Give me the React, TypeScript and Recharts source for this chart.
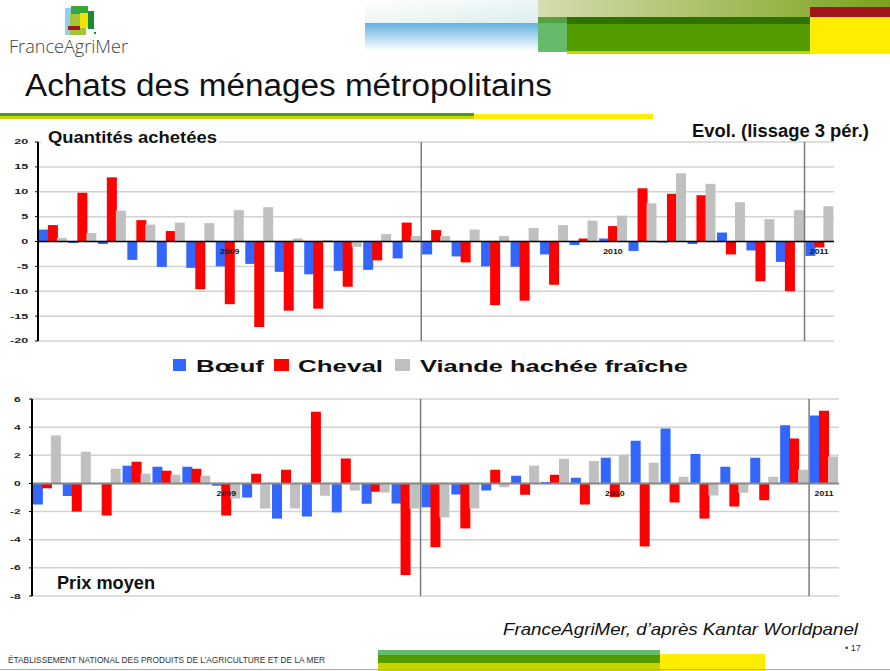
import React from 'react';
import { BarChart, Bar, XAxis, YAxis, CartesianGrid, ReferenceLine, ReferenceDot } from 'recharts';

const periods = [
  'P01 2009', 'P02 2009', 'P03 2009', 'P04 2009', 'P05 2009', 'P06 2009', 'P07 2009',
  'P08 2009', 'P09 2009', 'P10 2009', 'P11 2009', 'P12 2009', 'P13 2009',
  'P01 2010', 'P02 2010', 'P03 2010', 'P04 2010', 'P05 2010', 'P06 2010', 'P07 2010',
  'P08 2010', 'P09 2010', 'P10 2010', 'P11 2010', 'P12 2010', 'P13 2010',
  'P01 2011',
];

const seriesNames = ['Bœuf', 'Cheval', 'Viande hachée fraîche'];
const seriesKeys = ['boeuf', 'cheval', 'viande'];
const seriesColors = ['#3366ff', '#ff0000', '#c0c0c0'];

// Quantités achetées — évolution (%)
const qtyBoeuf = [2.4, -0.3, -0.5, -3.7, -5.1, -5.3, -5.0, -4.5, -6.1, -6.6, -5.9, -5.7, -3.4, -2.6, -3.0, -5.0, -5.1, -2.6, -0.7, 0.6, -1.9, -0.2, -0.5, 1.8, -1.8, -4.1, -2.9];
const qtyCheval = [3.3, 9.8, 12.9, 4.3, 2.1, -9.6, -12.6, -17.2, -13.9, -13.5, -9.1, -3.8, 3.8, 2.3, -4.2, -12.8, -11.9, -8.7, 0.6, 3.1, 10.7, 9.6, 9.3, -2.6, -8.0, -10.0, -1.2];
const qtyViande = [0.7, 1.7, 6.2, 3.4, 3.8, 3.7, 6.3, 6.9, 0.6, 0.3, -1.1, 1.5, 1.1, 1.1, 2.4, 1.1, 2.7, 3.3, 4.2, 5.2, 7.7, 13.7, 11.6, 7.9, 4.5, 6.3, 7.1];

// Prix moyen — évolution (%)
const prixBoeuf = [-1.5, -0.9, 0, 1.26, 1.19, 1.19, -0.17, -1.0, -2.5, -2.35, -2.06, -1.45, -1.42, -1.7, -0.78, -0.5, 0.55, 0.1, 0.4, 1.83, 3.04, 3.9, 2.1, 1.19, 1.83, 4.13, 4.82];
const prixCheval = [-0.35, -2.0, -2.28, 1.54, 0.9, 1.04, -2.28, 0.69, 0.97, 5.1, 1.78, -0.6, -6.5, -4.53, -3.2, 0.97, -0.8, 0.62, -1.5, -0.97, -4.48, -1.35, -2.5, -1.64, -1.2, 3.2, 5.17];
const prixViande = [3.4, 2.25, 1.04, 0.69, 0.62, 0.55, -1.07, -1.78, -1.78, -0.88, -0.5, -0.64, -1.78, -2.42, -1.78, -0.28, 1.26, 1.76, 1.6, 2.04, 1.47, 0.47, -0.85, -0.66, 0.47, 0.97, 1.92];

const qtyTicks = [-20, -15, -10, -5, 0, 5, 10, 15, 20];
const prixTicks = [-8, -6, -4, -2, 0, 2, 4, 6];

const yearStarts = ['P01 2010', 'P01 2011'];
const yearLabels = [
  { year: '2009', at: 'P07 2009' },
  { year: '2010', at: 'P07 2010' },
  { year: '2011', at: 'P01 2011' },
];

const FONT = '"Liberation Sans", Arial, Helvetica, sans-serif';

const qtyData = periods.map((p, i) => ({ period: p, boeuf: qtyBoeuf[i], cheval: qtyCheval[i], viande: qtyViande[i] }));
const prixData = periods.map((p, i) => ({ period: p, boeuf: prixBoeuf[i], cheval: prixCheval[i], viande: prixViande[i] }));

const makeTick = (stretch: number, size: number) => (props: any) => {
  const { x, y, payload } = props;
  return (
    <text
      x={0}
      y={0}
      transform={`translate(${x},${y}) scale(${stretch},1)`}
      textAnchor="end"
      dominantBaseline="central"
      fontSize={size}
      fontWeight="bold"
      fill="#222"
      fontFamily={FONT}
    >
      {payload.value}
    </text>
  );
};

const yearLabel = (text: string, dy: number) => (props: any) => {
  const vb = props.viewBox || {};
  const cx = (vb.x || 0) + (vb.width || 0) / 2;
  const cy = (vb.y || 0) + (vb.height || 0) / 2 + dy;
  return (
    <text
      x={0}
      y={0}
      transform={`translate(${cx},${cy}) scale(1.25,1)`}
      textAnchor="middle"
      dominantBaseline="central"
      fontSize={7}
      fontWeight="bold"
      fill="#111"
      fontFamily={FONT}
    >
      {text}
    </text>
  );
};

type PanelProps = {
  data: any[];
  ticks: number[];
  domain: [number, number];
  yWidth: number;
  rightMargin: number;
  topMargin: number;
  bottomMargin: number;
  tickMargin: number;
  tickStretch: number;
  tickSize: number;
  zeroColor: string;
  zeroWidth: number;
};

const Panel = (p: PanelProps) => (
  <BarChart
    width={850}
    height={230}
    data={p.data}
    margin={{ top: p.topMargin, right: p.rightMargin, bottom: p.bottomMargin, left: 0 }}
    barCategoryGap="3%"
    barGap={-1}
  >
    <CartesianGrid vertical={false} stroke="#d2d2d2" strokeWidth={1.5} />
    <XAxis dataKey="period" hide />
    <YAxis
      type="number"
      domain={p.domain}
      ticks={p.ticks}
      interval={0}
      width={p.yWidth}
      axisLine={{ stroke: '#000', strokeWidth: 2 }}
      tickLine={{ stroke: '#000', strokeWidth: 1 }}
      tickSize={3}
      tickMargin={p.tickMargin}
      tick={makeTick(p.tickStretch, p.tickSize)}
      allowDataOverflow
    />
    {seriesKeys.map((k, i) => (
      <Bar key={k} dataKey={k} name={seriesNames[i]} fill={seriesColors[i]} isAnimationActive={false} />
    ))}
    {yearStarts.map((y) => (
      <ReferenceLine key={y} x={y} position="start" stroke="#7a7a7a" strokeWidth={1.5} />
    ))}
    <ReferenceLine y={0} stroke={p.zeroColor} strokeWidth={p.zeroWidth} />
    {yearLabels.map((l) => (
      <ReferenceDot
        key={l.year}
        x={l.at}
        y={0}
        r={0}
        fill="none"
        stroke="none"
        label={yearLabel(l.year, 10.5)}
      />
    ))}
  </BarChart>
);

const Decor = () => (
  <svg width={890} height={671} style={{ position: 'absolute', left: 0, top: 0, pointerEvents: 'none' }}>
    <defs>
      <linearGradient id="skyG" x1="0" y1="0" x2="0" y2="1">
        <stop offset="0" stopColor="#64b0e2" />
        <stop offset="1" stopColor="#ffffff" />
      </linearGradient>
      <linearGradient id="washG" x1="0" y1="0" x2="1" y2="1">
        <stop offset="0" stopColor="#ffffff" />
        <stop offset="1" stopColor="#dcecec" />
      </linearGradient>
      <linearGradient id="topG" x1="0" y1="0" x2="1" y2="0">
        <stop offset="0" stopColor="#d6ddb0" />
        <stop offset="1" stopColor="#7aa31a" />
      </linearGradient>
    </defs>
    {/* header graphics */}
    <rect x={365} y={0} width={173} height={24} fill="url(#washG)" />
    <rect x={365} y={23} width={173} height={28} fill="url(#skyG)" />
    <rect x={538} y={0} width={352} height={17} fill="url(#topG)" />
    <rect x={810} y={7} width={80} height={10} fill="#a0161b" />
    <rect x={538} y={17} width={29} height={35} fill="#66bb6a" />
    <rect x={538} y={17} width={29} height={6} fill="#56a044" />
    <rect x={567} y={17} width={243} height={35} fill="#529c00" />
    <rect x={567} y={17} width={243} height={7} fill="#2e7300" />
    <rect x={567} y={51} width={243} height={3} fill="#c8d400" />
    <rect x={810} y={17} width={80} height={37} fill="#ffed00" />

    {/* logo */}
    <rect x={65} y={8} width={9} height={27} fill="#8fd0ee" />
    <rect x={71} y={6} width={17} height={8} fill="#3aa53a" />
    <rect x={70} y={14} width={16} height={21} fill="#a6c63a" />
    <rect x={80} y={13} width={8} height={15} fill="#f2e400" />
    <rect x={88} y={11} width={6} height={18} fill="#1a8a3a" />
    <rect x={68} y={26} width={12} height={4} fill="#a01818" />
    <rect x={94} y={32} width={2} height={2} fill="#1a8a3a" />
    <text x={9} y={53} fontSize={19} fontFamily='"Open Sans", sans-serif' fontWeight={300} fill="#444" textLength={119} lengthAdjust="spacingAndGlyphs">FranceAgriMer</text>

    {/* page title */}
    <text x={25} y={96} fontSize={31} fontFamily={FONT} fill="#111" textLength={527} lengthAdjust="spacingAndGlyphs">Achats des ménages métropolitains</text>
    <rect x={0} y={113} width={474} height={3} fill="#4f9a2a" />
    <rect x={0} y={116} width={474} height={3} fill="#c8d400" />
    <rect x={474} y={114} width={179} height={5} fill="#ffed00" />

    {/* chart titles */}
    <rect x={41} y={126} width={178} height={19} fill="#fff" />
    <text x={48} y={142.5} fontSize={17} fontWeight="bold" fontFamily={FONT} fill="#111" textLength={169} lengthAdjust="spacingAndGlyphs">Quantités achetées</text>
    <text x={692} y={137} fontSize={18} fontWeight="bold" fontFamily={FONT} fill="#111" textLength={177} lengthAdjust="spacingAndGlyphs">Evol. (lissage 3 pér.)</text>
    <text x={57} y={589} fontSize={18} fontWeight="bold" fontFamily={FONT} fill="#111" textLength={98} lengthAdjust="spacingAndGlyphs">Prix moyen</text>

    {/* legend */}
    <rect x={173} y={359} width={13} height={12} fill={seriesColors[0]} />
    <text x={196} y={371.5} fontSize={16} fontWeight="bold" fontFamily={FONT} fill="#111" textLength={68} lengthAdjust="spacingAndGlyphs">{seriesNames[0]}</text>
    <rect x={274} y={359} width={15} height={12} fill={seriesColors[1]} />
    <text x={298} y={371.5} fontSize={16} fontWeight="bold" fontFamily={FONT} fill="#111" textLength={85} lengthAdjust="spacingAndGlyphs">{seriesNames[1]}</text>
    <rect x={395} y={359} width={15} height={12} fill={seriesColors[2]} />
    <text x={420} y={371.5} fontSize={16} fontWeight="bold" fontFamily={FONT} fill="#111" textLength={268} lengthAdjust="spacingAndGlyphs">{seriesNames[2]}</text>

    {/* footer */}
    <text x={503} y={635} fontSize={17} fontStyle="italic" fontFamily={FONT} fill="#111" textLength={355} lengthAdjust="spacingAndGlyphs">FranceAgriMer, d’après Kantar Worldpanel</text>
    <text x={845} y={651} fontSize={9} fontFamily={FONT} fill="#333">• 17</text>
    <text x={8} y={663} fontSize={9} fontFamily={FONT} fill="#333" textLength={317} lengthAdjust="spacingAndGlyphs">ÉTABLISSEMENT NATIONAL DES PRODUITS DE L’AGRICULTURE ET DE LA MER</text>
    <rect x={378} y={650} width={282} height={5} fill="#66bb6a" />
    <rect x={378} y={655} width={282} height={8} fill="#529c00" />
    <rect x={378} y={663} width={282} height={8} fill="#c8d400" />
    <rect x={660} y={654} width={105} height={17} fill="#ffed00" />
    <rect x={0} y={669} width={890} height={1} fill="#aaaaaa" />
  </svg>
);

export default function App() {
  return (
    <div style={{ position: 'absolute', left: 0, top: 0, width: 890, height: 671, background: '#fff', overflow: 'hidden', fontFamily: FONT }}>
      <div style={{ position: 'absolute', left: 0, top: 130 }}>
        <Panel
          data={qtyData}
          ticks={qtyTicks}
          domain={[-20, 20]}
          yWidth={38}
          rightMargin={16}
          topMargin={12}
          bottomMargin={19}
          tickMargin={6.7}
          tickStretch={1.8}
          tickSize={7}
          zeroColor="#000"
          zeroWidth={1.5}
        />
      </div>
      <div style={{ position: 'absolute', left: 0, top: 385 }}>
        <Panel
          data={prixData}
          ticks={prixTicks}
          domain={[-8, 6]}
          yWidth={32}
          rightMargin={11}
          topMargin={14}
          bottomMargin={19}
          tickMargin={8.3}
          tickStretch={1.6}
          tickSize={7.5}
          zeroColor="#888"
          zeroWidth={2}
        />
      </div>
      <Decor />
    </div>
  );
}
